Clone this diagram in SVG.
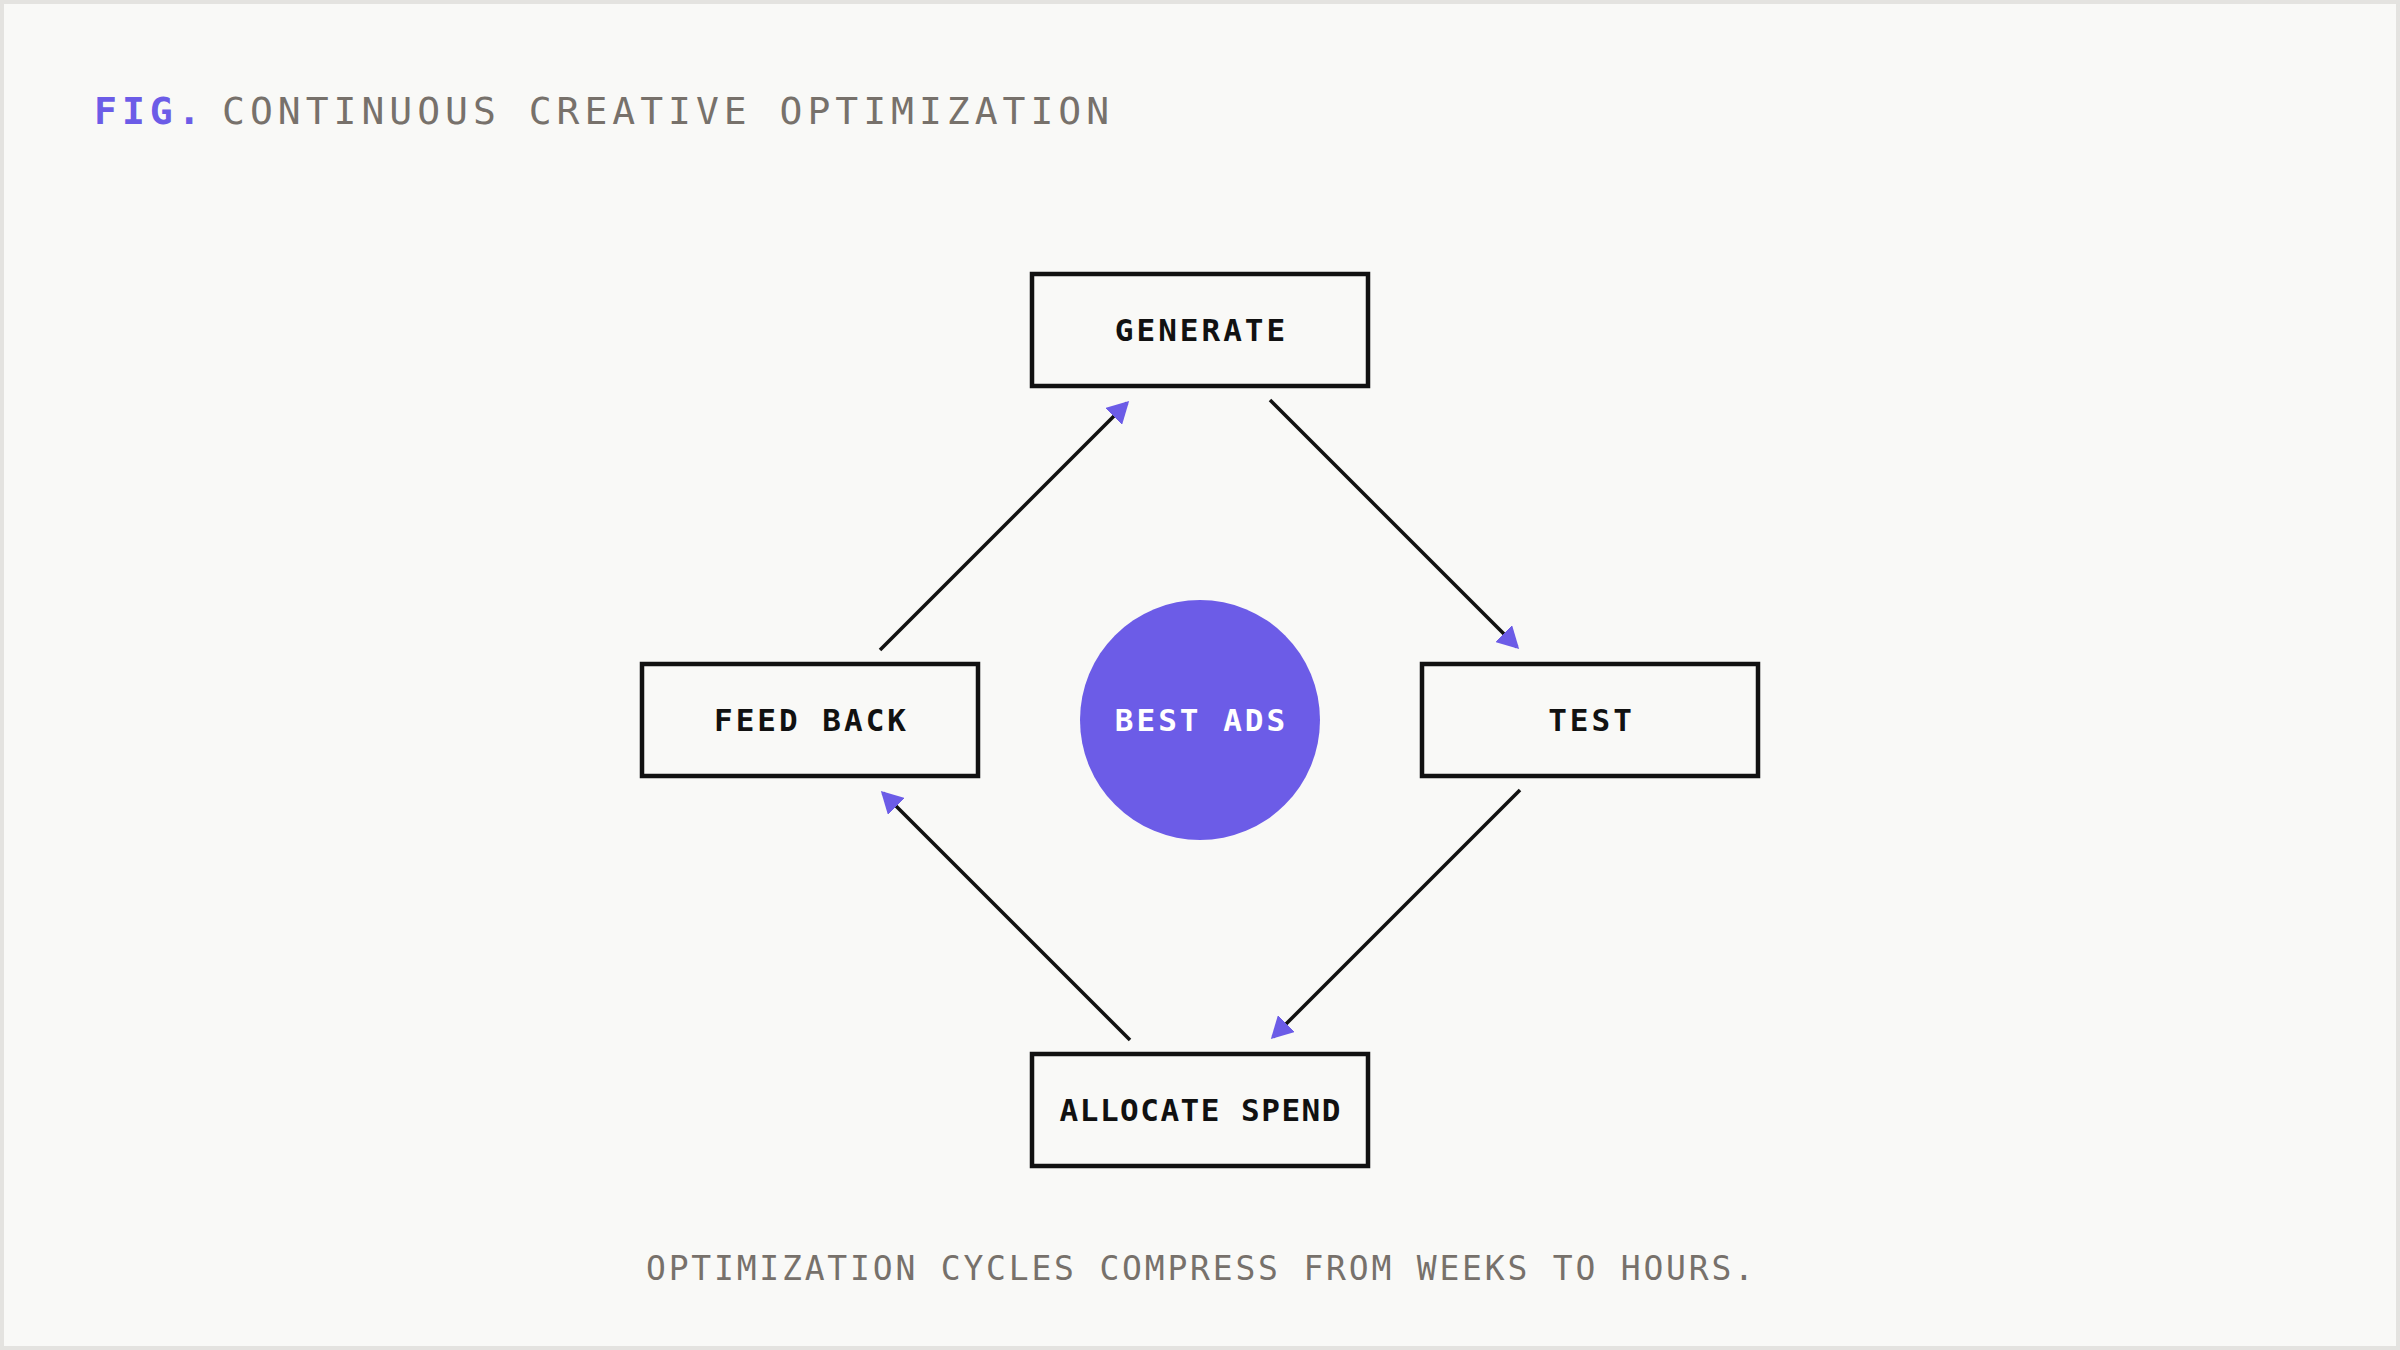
<svg xmlns="http://www.w3.org/2000/svg" width="2400" height="1350" viewBox="0 0 2400 1350">
  <defs>
    <style>
      .bg { fill: #f9f9f7; stroke: #e4e3e0; stroke-width: 4; }
      .box { fill: #f9f9f7; stroke: #111111; stroke-width: 4.5; }
      .lbl { font-family: "DejaVu Sans Mono", "Liberation Mono", monospace; font-weight: bold; font-size: 31px; letter-spacing: 3px; fill: #111111; text-anchor: middle; }
      .tight { letter-spacing: 1.5px; }
      .hub { fill: #6c5ce7; }
      .hublbl { fill: #ffffff; }
      .title { font-family: "DejaVu Sans Mono", "Liberation Mono", monospace; font-size: 38px; letter-spacing: 5px; fill: #77716b; }
      .fig { fill: #6c5ce7; font-weight: bold; }
      .foot { font-family: "DejaVu Sans Mono", "Liberation Mono", monospace; font-size: 33px; letter-spacing: 2.8px; fill: #77716b; text-anchor: middle; }
      .edge { stroke: #111111; stroke-width: 3.5; fill: none; marker-end: url(#arrow); }
    </style>
    <marker id="arrow" markerUnits="userSpaceOnUse" viewBox="0 0 22 24" markerWidth="22" markerHeight="24" refX="19" refY="12" orient="auto">
      <path d="M0,0 L22,12 L0,24 z" fill="#6c5ce7"/>
    </marker>
  </defs>

  <rect class="bg" x="2" y="2" width="2396" height="1346"/>

  <g id="title">
    <text class="title" x="94" y="124"><tspan class="fig">FIG.</tspan></text>
    <text class="title" x="222" y="124">CONTINUOUS CREATIVE OPTIMIZATION</text>
  </g>

  <g id="connectors">
    <line class="edge" x1="880" y1="650" x2="1127" y2="403"/>
    <line class="edge" x1="1270" y1="400" x2="1517" y2="647"/>
    <line class="edge" x1="1520" y1="790" x2="1273" y2="1037"/>
    <line class="edge" x1="1130" y1="1040" x2="883" y2="793"/>
  </g>

  <g id="generate">
    <rect class="box" x="1032" y="274" width="336" height="112"/>
    <text class="lbl" x="1201.5" y="341">GENERATE</text>
  </g>

  <g id="test">
    <rect class="box" x="1422" y="664" width="336" height="112"/>
    <text class="lbl" x="1591.5" y="731">TEST</text>
  </g>

  <g id="allocate-spend">
    <rect class="box" x="1032" y="1054" width="336" height="112"/>
    <text class="lbl tight" x="1200.75" y="1121">ALLOCATE SPEND</text>
  </g>

  <g id="feed-back">
    <rect class="box" x="642" y="664" width="336" height="112"/>
    <text class="lbl" x="811.5" y="731">FEED BACK</text>
  </g>

  <g id="best-ads">
    <circle class="hub" cx="1200" cy="720" r="120"/>
    <text class="lbl hublbl" x="1201.5" y="731">BEST ADS</text>
  </g>

  <g id="footer">
    <text class="foot" x="1201.4" y="1280">OPTIMIZATION CYCLES COMPRESS FROM WEEKS TO HOURS.</text>
  </g>
</svg>
